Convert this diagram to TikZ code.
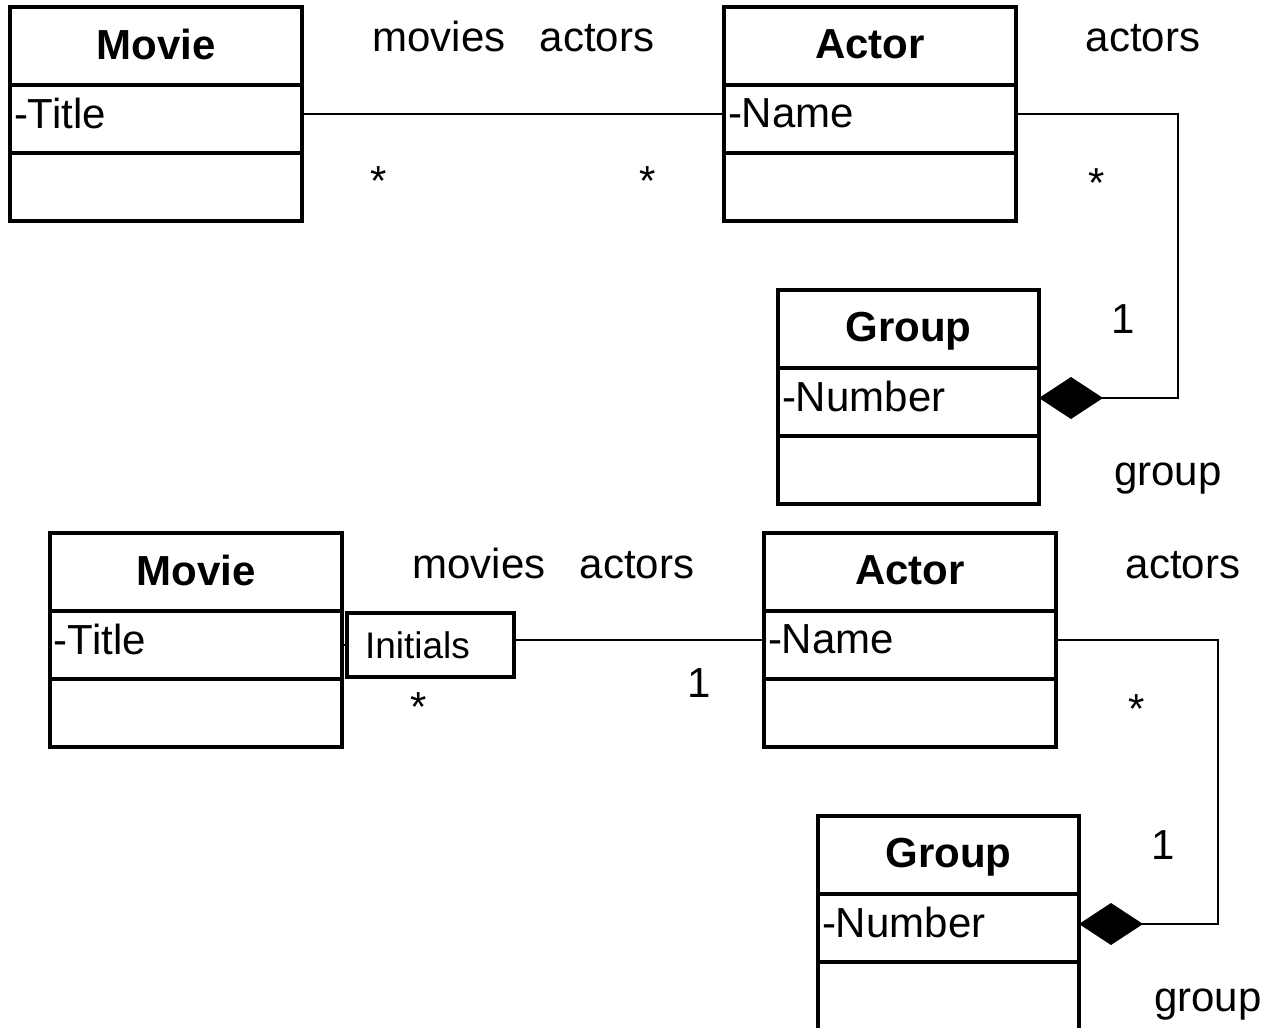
\documentclass[tikz,border=0pt]{standalone}
\usepackage{fontspec}
\setmainfont{Liberation Sans}
\usetikzlibrary{arrows.meta}

\begin{document}
\begin{tikzpicture}[x=0.5pt, y=-0.5pt,
        classhead/.style={draw, line width=2pt, outer sep=0pt, inner sep=0pt, text depth=2pt,
            minimum width=146pt, minimum height=39pt, font=\fontsize{21}{25}\selectfont\bfseries},
        classattr/.style={draw, line width=2pt, outer sep=0pt, inner xsep=2pt, inner ysep=0pt,
            text width=142pt, align=left, text depth=6pt, minimum height=34pt,
            font=\fontsize{21}{25}\selectfont, anchor=north},
        classops/.style={draw, line width=2pt, outer sep=0pt, inner sep=0pt,
            minimum width=146pt, minimum height=34pt, anchor=north},
        qualbox/.style={draw, line width=1.6pt, outer sep=0pt, inner xsep=9pt, inner ysep=0pt,
            text width=65.5pt, align=left, minimum height=32pt, text depth=0pt,
            font=\fontsize{18.5}{22}\selectfont},
        role/.style={anchor=base, inner sep=0pt, font=\fontsize{21}{25}\selectfont},
        assoc/.style={line width=1pt},
        comp/.style={assoc, -{Diamond[length=32pt, width=21pt]}}
    ]
        \useasboundingbox (0,0) rectangle (1266,1028);

        % both diagrams share the three classes and the group link
        \foreach \d/\dx/\dy in {A/0/0, B/40/526} {
            \begin{scope}[shift={(\dx,\dy)}]
                \node[classhead] (movhead\d) at (156,46) {Movie};
                \node[classattr] (movattr\d) at (movhead\d.south) {-Title};
                \node[classops] (movops\d) at (movattr\d.south) {};

                \node[classhead] (acthead\d) at (870,46) {Actor};
                \node[classattr] (actattr\d) at (acthead\d.south) {-Name};
                \node[classops] (actops\d) at (actattr\d.south) {};

                \node[classhead, minimum width=130.5pt] (grphead\d) at (908.5,329) {Group};
                \node[classattr, text width=126.5pt] (grpattr\d) at (grphead\d.south) {-Number};
                \node[classops, minimum width=130.5pt] (grpops\d) at (grpattr\d.south) {};

                \draw[comp] ([yshift=2.5pt]actattr\d.east) -- ++(162,0) |- ([yshift=2pt]grpattr\d.east);

                \node[role] (movies\d) at (439,52) {movies};
                \node[role] (actors\d) at (597,52) {actors};
                \node[role] (movstar\d) at (379,195) {*};
                \node[role] (grpactors\d) at (1143,52) {actors};
                \node[role] (actstar\d) at (1097,197) {*};
                \node[role] (grpone\d) at (1123,333) {1};
                \node[role] (group\d) at (1168,485) {group};
            \end{scope}
        }

        % top: plain association
        \draw[assoc] ([yshift=2.5pt]movattrA.east) -- ([yshift=2.5pt]actattrA.west);
        \node[role] (actstarA2) at (648,195) {*};

        % bottom: qualified association
        \node[qualbox, anchor=west] (qualB) at ([xshift=2.5pt]movattrB.east) {Initials};
        \draw[assoc] (movattrB.east) -- (qualB.west);
        \draw[assoc] ([yshift=2.5pt]actattrB.west) -- ([yshift=2.5pt]actattrB.west -| qualB.east);
        \node[role] (actoneB) at (699,697) {1};
    \end{tikzpicture}
\end{document}
